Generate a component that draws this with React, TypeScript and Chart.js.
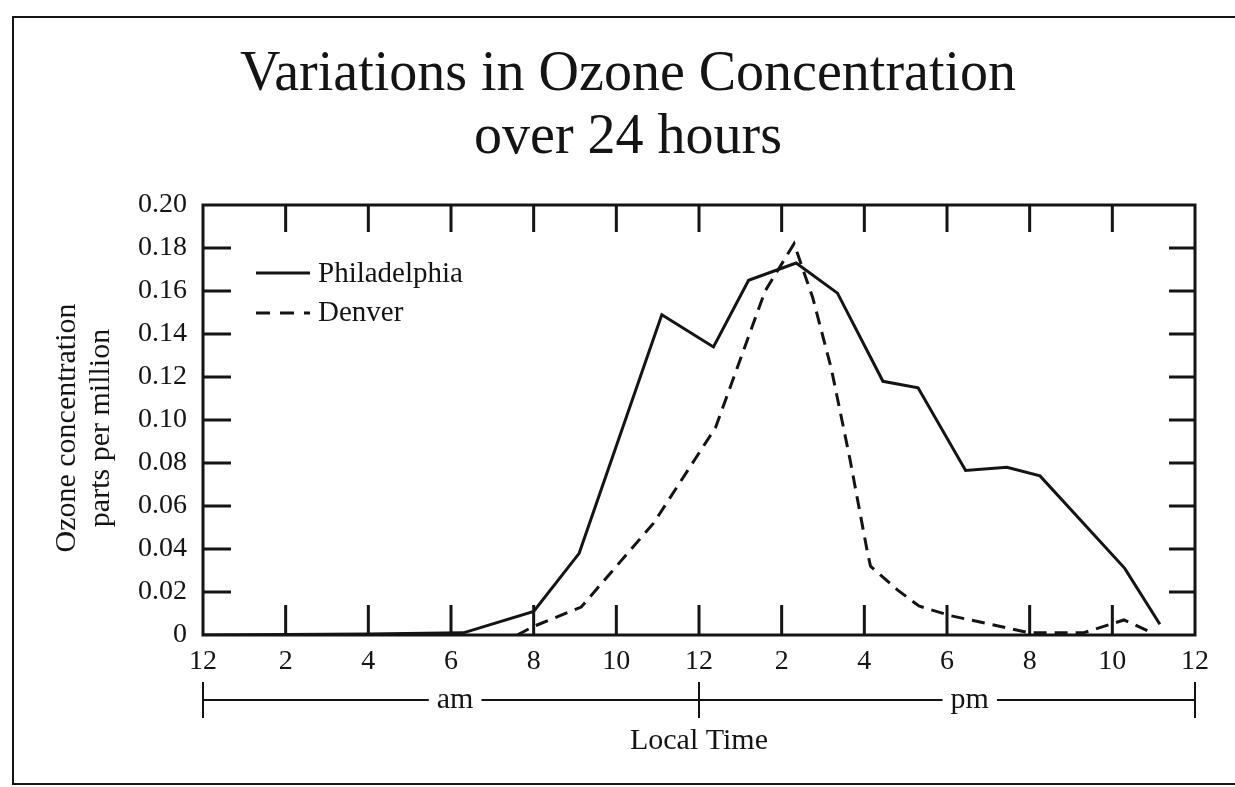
import React, { useEffect, useRef } from "react";
import { Chart, registerables } from "chart.js";

Chart.register(...registerables);

const titleLines = ["Variations in Ozone Concentration", "over 24 hours"];
const yTitleLines = ["Ozone concentration", "parts per million"];
const xTitle = "Local Time";
const seriesNames = ["Philadelphia", "Denver"];

const phillyHours = [0, 4, 6.3, 8, 9.1, 11.1, 12.35, 13.2, 14.35, 15.35, 16.45, 17.3, 18.45, 19.45, 20.25, 22.3, 23.15];
const phillyValues = [0, 0.0005, 0.001, 0.011, 0.038, 0.149, 0.134, 0.165, 0.173, 0.159, 0.118, 0.115, 0.0765, 0.078, 0.074, 0.031, 0.005];

const denverHours = [7.6, 8, 9.15, 10.9, 12.4, 13.6, 14.3, 14.75, 15.2, 15.65, 16.07, 16.15, 16.8, 17.32, 18.08, 19.05, 20.0, 21.3, 22.28, 22.97];
const denverValues = [0, 0.004, 0.013, 0.052, 0.0965, 0.16, 0.182, 0.157, 0.124, 0.082, 0.039, 0.032, 0.021, 0.0135, 0.009, 0.005, 0.001, 0.001, 0.007, 0.001];

const xTickHours = [2, 4, 6, 8, 10, 12, 14, 16, 18, 20, 22];
const yTickValues = [0.02, 0.04, 0.06, 0.08, 0.1, 0.12, 0.14, 0.16, 0.18];
const periodLabels = ["am", "pm"];

const INK = "#141414";
const SERIF = '"Liberation Serif", "Times New Roman", serif';

const framePlugin = {
  id: "framePlugin",
  afterDraw(chart: any) {
    const { ctx, chartArea } = chart;
    const xs = chart.scales.x;
    const ys = chart.scales.y;
    const { left, right, top, bottom } = chartArea;
    ctx.save();
    ctx.strokeStyle = INK;
    ctx.fillStyle = INK;

    // outer frame
    ctx.lineWidth = 2;
    ctx.beginPath();
    ctx.moveTo(1240, 17);
    ctx.lineTo(13, 17);
    ctx.lineTo(13, 784);
    ctx.lineTo(1240, 784);
    ctx.stroke();

    // plot box
    ctx.lineWidth = 3;
    ctx.strokeRect(left, top, right - left, bottom - top);

    // inward ticks
    ctx.lineWidth = 3;
    ctx.beginPath();
    xTickHours.forEach((h) => {
      const px = xs.getPixelForValue(h);
      ctx.moveTo(px, top);
      ctx.lineTo(px, top + 27);
      ctx.moveTo(px, bottom);
      ctx.lineTo(px, bottom - 30);
    });
    yTickValues.forEach((v) => {
      const py = ys.getPixelForValue(v);
      ctx.moveTo(left, py);
      ctx.lineTo(left + 28, py);
      ctx.moveTo(right, py);
      ctx.lineTo(right - 26, py);
    });
    ctx.stroke();

    // title
    ctx.textAlign = "center";
    ctx.textBaseline = "alphabetic";
    ctx.font = `56px ${SERIF}`;
    ctx.fillText(titleLines[0], 628, 90);
    ctx.fillText(titleLines[1], 628, 153);

    // y-axis title
    ctx.font = `30px ${SERIF}`;
    ctx.save();
    ctx.translate(75, 428);
    ctx.rotate(-Math.PI / 2);
    ctx.fillText(yTitleLines[0], 0, 0);
    ctx.fillText(yTitleLines[1], 0, 34);
    ctx.restore();

    // legend
    ctx.lineWidth = 3;
    ctx.beginPath();
    ctx.moveTo(256, 273);
    ctx.lineTo(310, 273);
    ctx.stroke();
    ctx.setLineDash([14, 10]);
    ctx.beginPath();
    ctx.moveTo(256, 313);
    ctx.lineTo(310, 313);
    ctx.stroke();
    ctx.setLineDash([]);
    ctx.textAlign = "left";
    ctx.font = `29px ${SERIF}`;
    ctx.fillText(seriesNames[0], 318, 282);
    ctx.fillText(seriesNames[1], 318, 321);

    // am / pm bar
    const x0 = xs.getPixelForValue(0);
    const x12 = xs.getPixelForValue(12);
    const x24 = xs.getPixelForValue(24);
    const lineY = 700;
    ctx.lineWidth = 2;
    ctx.beginPath();
    ctx.moveTo(x0, lineY);
    ctx.lineTo(x24, lineY);
    [x0, x12, x24].forEach((px) => {
      ctx.moveTo(px, lineY - 18);
      ctx.lineTo(px, lineY + 18);
    });
    ctx.stroke();
    ctx.font = `30px ${SERIF}`;
    ctx.textAlign = "center";
    const amX = xs.getPixelForValue(6.1);
    const pmX = xs.getPixelForValue(18.55);
    [[periodLabels[0], amX], [periodLabels[1], pmX]].forEach(([txt, px]: any) => {
      const w = ctx.measureText(txt).width;
      ctx.fillStyle = "#ffffff";
      ctx.fillRect(px - w / 2 - 8, lineY - 4, w + 16, 8);
      ctx.fillStyle = INK;
      ctx.fillText(txt, px, 708);
    });

    // x-axis title
    ctx.fillText(xTitle, x12, 749);

    ctx.restore();
  },
};

export default function App() {
  const canvasRef = useRef<HTMLCanvasElement | null>(null);

  useEffect(() => {
    if (!canvasRef.current) return;
    Chart.defaults.font.family = SERIF;
    const chart = new Chart(canvasRef.current, {
      type: "line",
      data: {
        datasets: [
          {
            label: seriesNames[0],
            data: phillyHours.map((h, i) => ({ x: h, y: phillyValues[i] })),
            borderColor: INK,
            borderWidth: 3,
            pointRadius: 0,
            tension: 0,
            fill: false,
            borderJoinStyle: "miter",
          },
          {
            label: seriesNames[1],
            data: denverHours.map((h, i) => ({ x: h, y: denverValues[i] })),
            borderColor: INK,
            borderWidth: 3,
            borderDash: [13, 8],
            pointRadius: 0,
            tension: 0,
            fill: false,
          },
        ],
      },
      options: {
        responsive: true,
        maintainAspectRatio: false,
        animation: false,
        layout: { padding: { left: 0, right: 0, top: 205, bottom: 0 } },
        plugins: {
          legend: { display: false },
          title: { display: false },
          tooltip: { enabled: false },
        },
        scales: {
          x: {
            type: "linear",
            position: "bottom",
            min: 0,
            max: 24,
            afterFit: (s: any) => {
              s.height = 152;
            },
            grid: { display: false, drawTicks: false },
            border: { display: false },
            ticks: {
              stepSize: 2,
              autoSkip: false,
              maxRotation: 0,
              padding: 10,
              color: INK,
              font: { family: SERIF, size: 28 },
              callback: (v: any) => {
                const h = Number(v) % 12;
                return h === 0 ? "12" : String(h);
              },
            },
          },
          y: {
            type: "linear",
            position: "left",
            min: 0,
            max: 0.2,
            afterFit: (s: any) => {
              s.width = 203;
            },
            grid: { display: false, drawTicks: false },
            border: { display: false },
            ticks: {
              stepSize: 0.02,
              padding: 16,
              color: INK,
              font: { family: SERIF, size: 28 },
              callback: (v: any) => (Number(v) === 0 ? "0" : Number(v).toFixed(2)),
            },
          },
          yr: {
            type: "linear",
            position: "right",
            min: 0,
            max: 0.2,
            afterFit: (s: any) => {
              s.width = 40;
            },
            grid: { display: false, drawTicks: false },
            border: { display: false },
            ticks: { display: false },
          },
        },
      },
      plugins: [framePlugin],
    });
    return () => chart.destroy();
  }, []);

  return (
    <div style={{ position: "fixed", left: 0, top: 0, width: 1235, height: 787, background: "#ffffff" }}>
      <canvas ref={canvasRef} />
    </div>
  );
}
